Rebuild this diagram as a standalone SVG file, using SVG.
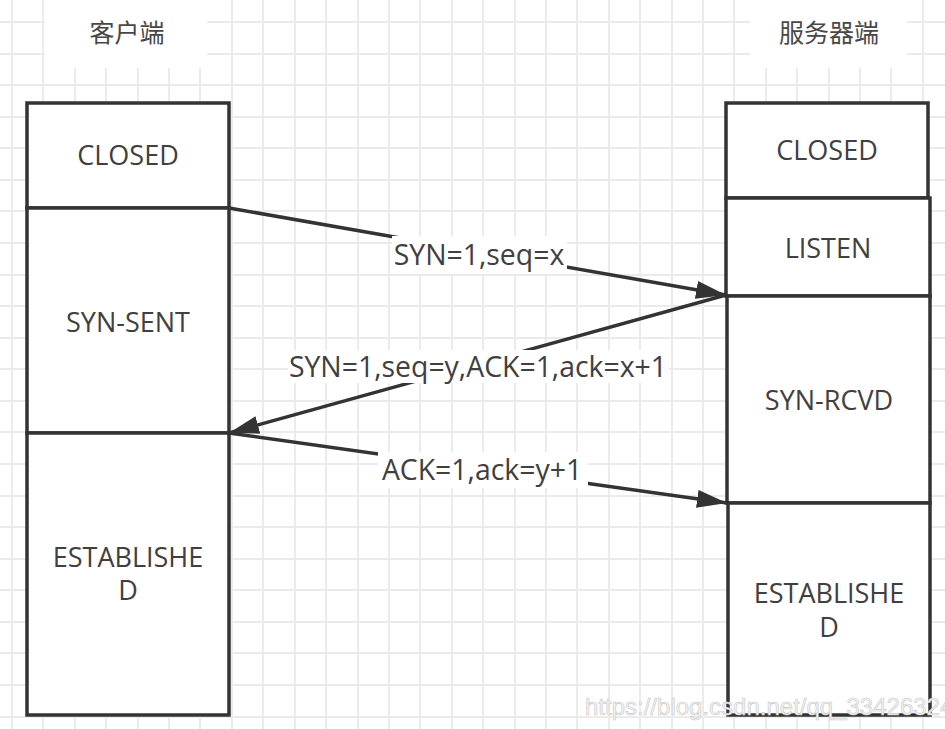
<svg xmlns="http://www.w3.org/2000/svg" width="945" height="729" viewBox="0 0 945 729">
<defs>
<style>
.grid{stroke:#ebebeb;stroke-width:2;fill:none}
.box{fill:#ffffff;stroke:#333333;stroke-width:3.5}
.t{font-family:"Open Sans","Noto Sans","Noto Sans CJK SC",sans-serif;font-size:27px;fill:#404040;text-anchor:middle}
.el{font-size:28.4px}
.cn{font-family:"Noto Sans CJK SC","Noto Sans",sans-serif;font-size:25px;fill:#484848;text-anchor:middle}
.edge{stroke:#333333;stroke-width:3.5;fill:none}
.lbg{fill:#ffffff}
.wm{font-family:"Liberation Sans",Arial,sans-serif;font-size:24px;fill:#f4f4f4;stroke:#c8c8c8;stroke-width:0.6}
</style>
<marker id="arr" markerUnits="userSpaceOnUse" markerWidth="32" markerHeight="20" refX="30" refY="10" orient="auto">
<path d="M0,1 L30,10 L0,19 z" fill="#333333"/>
</marker>
</defs>
<rect x="0" y="0" width="945" height="729" fill="#ffffff"/>
<path class="grid" d="M12,0V729M43,0V729M75,0V729M106,0V729M138,0V729M169,0V729M200,0V729M232,0V729M263,0V729M295,0V729M326,0V729M358,0V729M389,0V729M420,0V729M452,0V729M483,0V729M515,0V729M546,0V729M577,0V729M609,0V729M640,0V729M672,0V729M703,0V729M734,0V729M766,0V729M797,0V729M829,0V729M860,0V729M891,0V729M923,0V729
M0,22H945M0,54H945M0,85H945M0,117H945M0,148H945M0,180H945M0,211H945M0,243H945M0,275H945M0,306H945M0,338H945M0,369H945M0,401H945M0,432H945M0,464H945M0,496H945M0,527H945M0,559H945M0,590H945M0,622H945M0,653H945M0,685H945M0,717H945"/>

<g id="client-title">
<rect class="lbg" x="45" y="0" width="162" height="68"/>
<text class="cn" x="127" y="42">客户端</text>
</g>
<g id="server-title">
<rect class="lbg" x="750" y="0" width="157" height="68"/>
<text class="cn" x="829" y="42">服务器端</text>
</g>

<g id="c-closed">
<rect class="box" x="27" y="103" width="202" height="105"/>
<text class="t" x="128" y="165">CLOSED</text>
</g>
<g id="c-synsent">
<rect class="box" x="27" y="208" width="202" height="225"/>
<text class="t" x="128" y="332">SYN-SENT</text>
</g>
<g id="c-established">
<rect class="box" x="27" y="433" width="202" height="282"/>
<text class="t" x="128" y="567">ESTABLISHE</text>
<text class="t" x="128" y="600">D</text>
</g>

<g id="s-closed">
<rect class="box" x="726" y="103" width="202" height="95"/>
<text class="t" x="827" y="160">CLOSED</text>
</g>
<g id="s-listen">
<rect class="box" x="726" y="198" width="204" height="98"/>
<text class="t" x="828" y="258">LISTEN</text>
</g>
<g id="s-synrcvd">
<rect class="box" x="727" y="296" width="203" height="207"/>
<text class="t" x="829" y="410">SYN-RCVD</text>
</g>
<g id="s-established">
<rect class="box" x="728" y="503" width="202" height="212"/>
<text class="t" x="829" y="603">ESTABLISHE</text>
<text class="t" x="829" y="637">D</text>
</g>

<g id="connectors">
<path class="edge" d="M229,208 L726,295" marker-end="url(#arr)"/>
<path class="edge" d="M726,295 L229,433" marker-end="url(#arr)"/>
<path class="edge" d="M229,433 L727,503" marker-end="url(#arr)"/>
<rect class="lbg" x="392" y="236" width="175" height="38"/>
<text class="t el" x="479" y="265">SYN=1,seq=x</text>
<rect class="lbg" x="288" y="350" width="381" height="33"/>
<text class="t el" x="478" y="377">SYN=1,seq=y,ACK=1,ack=x+1</text>
<rect class="lbg" x="378" y="452" width="210" height="36"/>
<text class="t el" x="482" y="480">ACK=1,ack=y+1</text>
</g>

<text class="wm" x="585" y="715">https://blog.csdn.net/qq_33426324</text>
</svg>
